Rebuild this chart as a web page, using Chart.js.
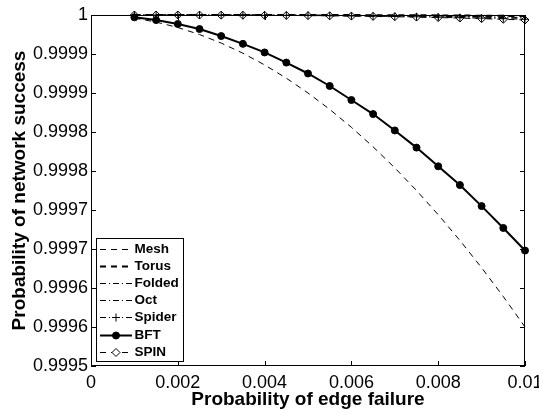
<!DOCTYPE html>
<html>
<head>
<meta charset="utf-8">
<script src="https://cdn.jsdelivr.net/npm/chart.js@4/dist/chart.umd.min.js"></script>
<style>
  body { margin: 0; background: #fff; }
  canvas { display: block; }
</style>
</head>
<body>
<canvas id="reliabilityChart" width="539" height="413"></canvas>
<script>
      // edge failure probabilities (x) and network success per topology
      const edgeFailure = [0.001, 0.0015, 0.002, 0.0025, 0.003, 0.0035, 0.004, 0.0045, 0.005, 0.0055,
        0.006, 0.0065, 0.007, 0.0075, 0.008, 0.0085, 0.009, 0.0095, 0.01];

      const mesh = [0.999996, 0.999991, 0.999984, 0.999975, 0.999964, 0.999951, 0.999936, 0.999919, 0.9999, 0.999879,
        0.999856, 0.999831, 0.999804, 0.999775, 0.999744, 0.999711, 0.999676, 0.999639, 0.9996];
      const torus = [1, 1, 1, 1, 1, 1, 1, 1, 1, 0.9999999,
        0.9999999, 0.9999998, 0.9999997, 0.9999996, 0.9999995, 0.9999993, 0.9999991, 0.9999989, 0.9999986];
      const folded = [1, 1, 1, 1, 1, 0.9999999, 0.9999999, 0.9999998, 0.9999997, 0.9999996,
        0.9999994, 0.9999992, 0.999999, 0.9999987, 0.9999983, 0.9999978, 0.9999972, 0.9999966, 0.9999958];
      const oct = [1, 1, 1, 1, 1, 1, 0.9999999, 0.9999999, 0.9999998, 0.9999997,
        0.9999996, 0.9999994, 0.9999992, 0.999999, 0.9999987, 0.9999983, 0.9999979, 0.9999974, 0.9999968];
      const spider = [1, 1, 1, 1, 0.9999999, 0.9999998, 0.9999997, 0.9999995, 0.9999993, 0.9999991,
        0.9999988, 0.9999985, 0.9999981, 0.9999977, 0.9999972, 0.9999966, 0.999996, 0.9999953, 0.9999945];
      const bft = [0.999997, 0.9999935, 0.9999885, 0.999982, 0.999973, 0.999963, 0.999952, 0.999939, 0.999925, 0.999909,
        0.999891, 0.999873, 0.999852, 0.99983, 0.999806, 0.999782, 0.999755, 0.999727, 0.999698];
      const spin = [1, 1, 1, 0.9999999, 0.9999998, 0.9999997, 0.9999996, 0.9999994, 0.9999992, 0.9999989,
        0.9999986, 0.9999982, 0.9999978, 0.9999973, 0.9999967, 0.9999961, 0.9999953, 0.9999945, 0.9999936];

      // axis ticks (labels are rounded to 4 places like the original plot)
      const xTickValues = [0, 0.002, 0.004, 0.006, 0.008, 0.01];
      const xTickLabels = ["0", "0.002", "0.004", "0.006", "0.008", "0.01"];
      const yTickValues = [0.99955, 0.9996, 0.99965, 0.9997, 0.99975, 0.9998, 0.99985, 0.9999, 0.99995, 1];
      const yTickLabels = ["0.9995", "0.9996", "0.9996", "0.9997", "0.9997", "0.9998", "0.9998", "0.9999", "0.9999", "1"];

      const FONT = "'Liberation Sans', Arial, Helvetica, sans-serif";

      function points(values) {
        return edgeFailure.map((x, i) => ({ x: x, y: values[i] }));
      }

      function series(label, values, style) {
        return Object.assign({
          label: label,
          data: points(values),
          borderColor: "#000",
          backgroundColor: "#000",
          borderWidth: 1,
          pointRadius: 0,
          pointBorderWidth: 1,
          pointBorderColor: "#000",
          tension: 0,
          fill: false,
          clip: false,
        }, style);
      }

      const datasets = [
        series("Mesh", mesh, { borderDash: [6, 5] }),
        series("Torus", torus, { borderDash: [6, 5], borderWidth: 2 }),
        series("Folded", folded, { borderDash: [6, 3, 1, 3] }),
        series("Oct", oct, { borderDash: [6, 3, 1, 3] }),
        series("Spider", spider, { borderDash: [6, 3, 1, 3], pointStyle: "cross", pointRadius: 4 }),
        series("BFT", bft, { borderWidth: 2, pointStyle: "circle", pointRadius: 3.5 }),
        series("SPIN", spin, { borderDash: [6, 5], pointStyle: "rectRot", pointRadius: 4, pointBackgroundColor: "#fff" }),
      ];

      // box round the plot with inward tick marks, plus the legend in the lower left
      const framePlugin = {
        id: "frame",
        afterDraw(chart) {
          const ctx = chart.ctx;
          const a = chart.chartArea;
          const xs = chart.scales.x;
          const ys = chart.scales.y;
          const tick = 5;
          ctx.save();
          ctx.strokeStyle = "#000";
          ctx.lineWidth = 1;
          ctx.setLineDash([]);
          ctx.strokeRect(a.left + 0.5, a.top + 0.5, a.right - a.left - 1, a.bottom - a.top - 1);
          ctx.beginPath();
          xTickValues.forEach((v) => {
            const px = Math.round(xs.getPixelForValue(v)) + 0.5;
            ctx.moveTo(px, a.bottom);
            ctx.lineTo(px, a.bottom - tick);
            ctx.moveTo(px, a.top);
            ctx.lineTo(px, a.top + tick);
          });
          yTickValues.forEach((v) => {
            const py = Math.round(ys.getPixelForValue(v)) + 0.5;
            ctx.moveTo(a.left, py);
            ctx.lineTo(a.left + tick, py);
            ctx.moveTo(a.right, py);
            ctx.lineTo(a.right - tick, py);
          });
          ctx.stroke();

          // legend
          const box = { x: 96, y: 238, w: 87, h: 123 };
          ctx.fillStyle = "#fff";
          ctx.fillRect(box.x, box.y, box.w, box.h);
          ctx.strokeRect(box.x + 0.5, box.y + 0.5, box.w, box.h);
          ctx.font = "bold 13.5px " + FONT;
          ctx.textBaseline = "middle";
          ctx.textAlign = "left";
          chart.data.datasets.forEach((ds, i) => {
            const y = Math.round(box.y + 10.5 + i * 17.2) + 0.5;
            ctx.save();
            ctx.strokeStyle = "#000";
            ctx.lineWidth = ds.borderWidth;
            ctx.setLineDash(ds.borderDash || []);
            ctx.beginPath();
            ctx.moveTo(100, y);
            ctx.lineTo(132, y);
            ctx.stroke();
            ctx.restore();
            if (ds.pointRadius > 0) {
              ctx.save();
              ctx.setLineDash([]);
              ctx.strokeStyle = "#000";
              ctx.fillStyle = ds.pointBackgroundColor || "#000";
              ctx.lineWidth = 1;
              Chart.helpers.drawPoint(ctx, {
                pointStyle: ds.pointStyle,
                radius: ds.pointRadius,
                rotation: 0,
                borderWidth: 1,
              }, 116, y);
              ctx.restore();
            }
            ctx.fillStyle = "#000";
            ctx.fillText(ds.label, 134.5, y);
          });
          ctx.restore();
        },
      };

      const ctx = document.getElementById("reliabilityChart").getContext("2d");
      const myChart = new Chart(ctx, {
        type: "line",
        data: { datasets: datasets },
        options: {
          responsive: false,
          animation: false,
          devicePixelRatio: 1,
          layout: { padding: { left: 0, right: 14, top: 15, bottom: 0 } },
          plugins: { legend: { display: false }, tooltip: { enabled: false } },
          scales: {
            x: {
              type: "linear",
              min: 0,
              max: 0.01,
              grid: { display: false, drawTicks: false },
              border: { display: false },
              afterBuildTicks: (scale) => {
                scale.ticks = xTickValues.map((v) => ({ value: v }));
              },
              afterFit: (scale) => {
                scale.height = 47;
                scale.paddingLeft = 0;
                scale.paddingRight = 0;
              },
              ticks: {
                color: "#000",
                padding: 6,
                maxRotation: 0,
                font: { family: FONT, size: 18 },
                callback: (v, i) => xTickLabels[i],
              },
              title: {
                display: true,
                text: "Probability of edge failure",
                color: "#000",
                padding: { top: 0, bottom: 2 },
                font: { family: FONT, size: 19, weight: "bold" },
              },
            },
            y: {
              type: "linear",
              min: 0.99955,
              max: 1,
              grid: { display: false, drawTicks: false },
              border: { display: false },
              afterBuildTicks: (scale) => {
                scale.ticks = yTickValues.map((v) => ({ value: v }));
              },
              afterFit: (scale) => {
                scale.width = 91;
                scale.paddingTop = 0;
                scale.paddingBottom = 0;
              },
              ticks: {
                color: "#000",
                padding: 3,
                font: { family: FONT, size: 18 },
                callback: (v, i) => yTickLabels[i],
              },
              title: {
                display: true,
                text: "Probability of network success",
                color: "#000",
                padding: { top: 8, bottom: 0 },
                font: { family: FONT, size: 19, weight: "bold" },
              },
            },
          },
        },
        plugins: [framePlugin],
      });
</script>
</body>
</html>
